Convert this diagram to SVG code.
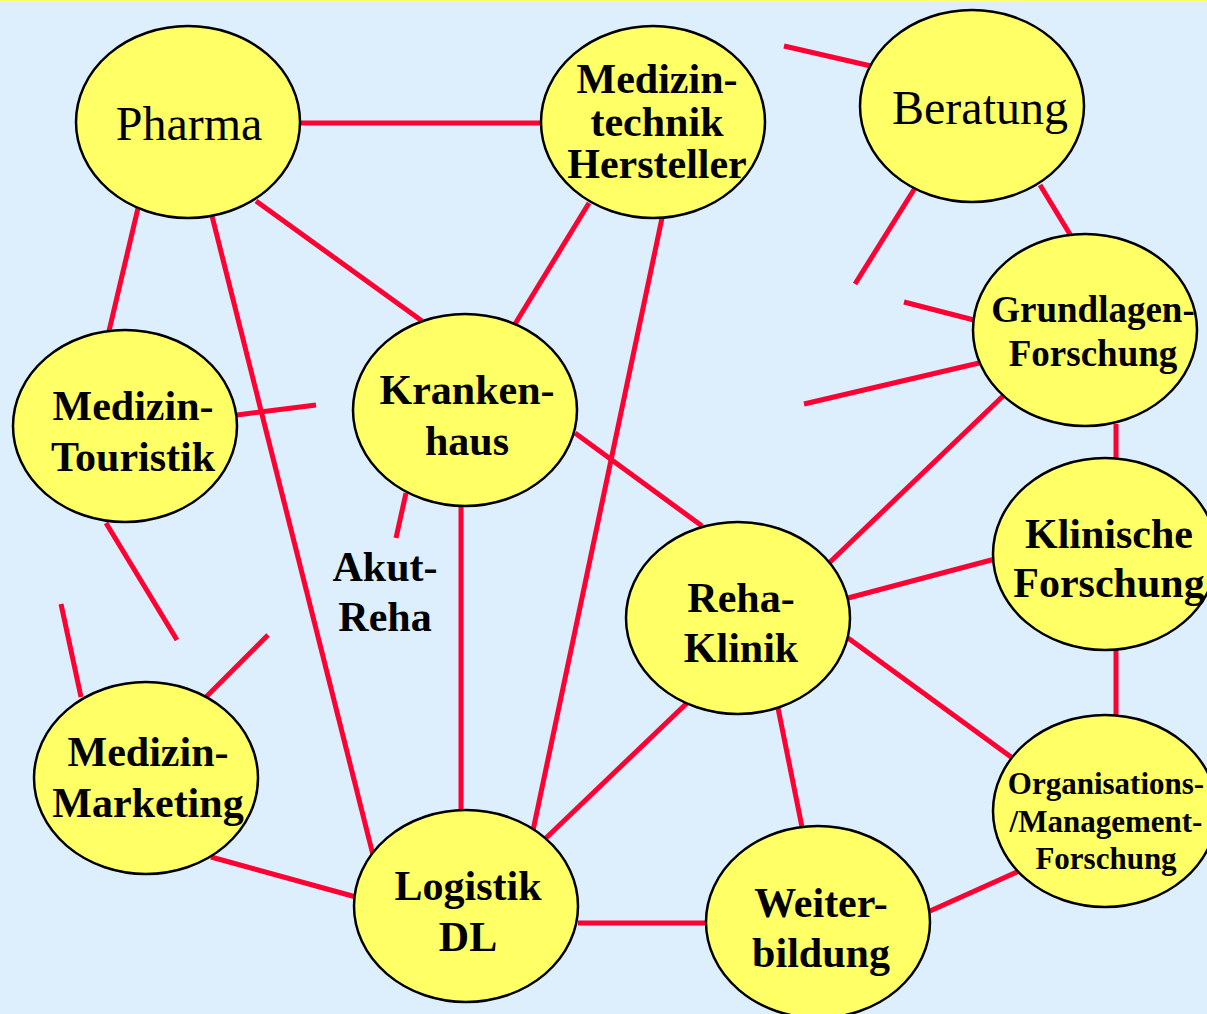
<svg xmlns="http://www.w3.org/2000/svg" width="1207" height="1014" viewBox="0 0 1207 1014">
<style>
.n{fill:#FFFF66;stroke:#000;stroke-width:2.5}
.c line{stroke:#FF0033;stroke-width:5;stroke-linecap:butt}
text{font-family:"Liberation Serif","Times New Roman",serif;fill:#000;text-anchor:middle}
.b{font-weight:bold;font-size:42px}
.r{font-size:48px}
</style>
<rect x="0" y="0" width="1207" height="1014" fill="#DDEEFD"/>
<rect x="0" y="0" width="1207" height="2" fill="#FFFF66"/>
<g id="connectors" class="c">
<line x1="301" y1="123" x2="541" y2="123"/>
<line x1="256" y1="201" x2="422" y2="321"/>
<line x1="138" y1="208" x2="109" y2="331"/>
<line x1="212" y1="216" x2="373" y2="855"/>
<line x1="589" y1="203" x2="515" y2="324"/>
<line x1="662" y1="218" x2="531" y2="840"/>
<line x1="784" y1="46" x2="871" y2="66"/>
<line x1="915" y1="188" x2="855" y2="284"/>
<line x1="1040" y1="185" x2="1071" y2="236"/>
<line x1="904" y1="302" x2="974" y2="320"/>
<line x1="804" y1="404" x2="979" y2="363"/>
<line x1="1003" y1="396" x2="828" y2="564"/>
<line x1="1116" y1="424" x2="1116" y2="460"/>
<line x1="995" y1="559" x2="848" y2="598"/>
<line x1="1116" y1="650" x2="1116" y2="716"/>
<line x1="848" y1="638" x2="1011" y2="757"/>
<line x1="1019" y1="871" x2="930" y2="911"/>
<line x1="778" y1="708" x2="802" y2="827"/>
<line x1="687" y1="703" x2="546" y2="838"/>
<line x1="575" y1="433" x2="702" y2="526"/>
<line x1="461" y1="506" x2="461" y2="811"/>
<line x1="406" y1="493" x2="396" y2="538"/>
<line x1="237" y1="415" x2="316" y2="405"/>
<line x1="106" y1="523" x2="177" y2="640"/>
<line x1="61" y1="604" x2="81" y2="697"/>
<line x1="205" y1="698" x2="268" y2="635"/>
<line x1="211" y1="857" x2="356" y2="897"/>
<line x1="578" y1="923" x2="708" y2="923"/>
</g>
<g id="pharma"><ellipse class="n" cx="188" cy="122" rx="112" ry="96"/><text class="r" x="189" y="140">Pharma</text></g>
<g id="medizintechnik"><ellipse class="n" cx="653" cy="122" rx="112" ry="96"/><text class="b" x="657" y="93">Medizin-</text><text class="b" x="657" y="136">technik</text><text class="b" x="657" y="178">Hersteller</text></g>
<g id="beratung"><ellipse class="n" cx="972" cy="106" rx="112" ry="96"/><text class="r" x="980" y="124">Beratung</text></g>
<g id="grundlagen"><ellipse class="n" cx="1085" cy="330" rx="112" ry="96"/><text class="b" x="1093" y="322" style="font-size:37px">Grundlagen-</text><text class="b" x="1093" y="366" style="font-size:37px">Forschung</text></g>
<g id="klinische"><ellipse class="n" cx="1105" cy="554" rx="112" ry="96"/><text class="b" x="1109" y="548">Klinische</text><text class="b" x="1109" y="597">Forschung</text></g>
<g id="organisation"><ellipse class="n" cx="1105" cy="811" rx="112" ry="96"/><text class="b" x="1106" y="794" style="font-size:31px">Organisations-</text><text class="b" x="1106" y="832" style="font-size:31px">/Management-</text><text class="b" x="1106" y="869" style="font-size:31px">Forschung</text></g>
<g id="touristik"><ellipse class="n" cx="125" cy="426" rx="112" ry="96"/><text class="b" x="133" y="420">Medizin-</text><text class="b" x="133" y="471">Touristik</text></g>
<g id="krankenhaus"><ellipse class="n" cx="465" cy="410" rx="112" ry="96"/><text class="b" x="467" y="404">Kranken-</text><text class="b" x="467" y="455">haus</text></g>
<g id="akutreha"><text class="b" x="385" y="581">Akut-</text><text class="b" x="385" y="631">Reha</text></g>
<g id="rehaklinik"><ellipse class="n" cx="738" cy="618" rx="112" ry="96"/><text class="b" x="741" y="612">Reha-</text><text class="b" x="741" y="662">Klinik</text></g>
<g id="marketing"><ellipse class="n" cx="146" cy="778" rx="112" ry="96"/><text class="b" x="148" y="766">Medizin-</text><text class="b" x="148" y="817">Marketing</text></g>
<g id="logistik"><ellipse class="n" cx="466" cy="906" rx="112" ry="96"/><text class="b" x="468" y="900">Logistik</text><text class="b" x="468" y="951">DL</text></g>
<g id="weiterbildung"><ellipse class="n" cx="818" cy="922" rx="112" ry="96"/><text class="b" x="821" y="917">Weiter-</text><text class="b" x="821" y="967">bildung</text></g>
</svg>
